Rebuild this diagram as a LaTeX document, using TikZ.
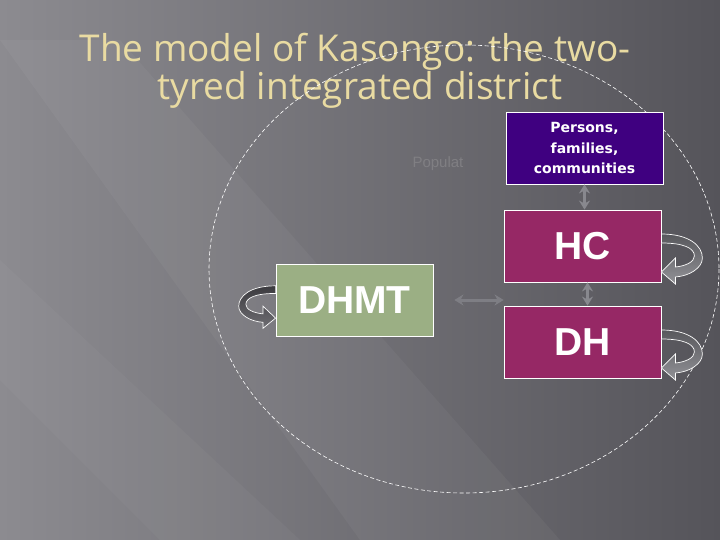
\documentclass[tikz,border=0pt]{standalone}
\usepackage{fontspec}
\setmainfont{Liberation Sans}
\newfontfamily\titlefont{Open Sans}
\newfontfamily\boxfont{DejaVu Sans}
\usetikzlibrary{arrows.meta,calc}
\definecolor{bgL}{HTML}{8C8B90}
\definecolor{bgR}{HTML}{55545A}
\definecolor{titlegold}{HTML}{E9DBA2}
\definecolor{indigo}{HTML}{3F0080}
\definecolor{plum}{HTML}{962865}
\definecolor{sage}{HTML}{9BAF84}
\definecolor{linkgray}{HTML}{88888E}
\definecolor{loopgray}{HTML}{7E7E84}
\tikzset{
  box/.style={draw=white, line width=0.8pt, minimum width=157pt, minimum height=72pt,
    inner sep=0pt, text=white, align=center},
  bigtext/.style={font=\fontsize{39}{39}\selectfont\bfseries},
  heading/.style={text=titlegold, anchor=base, font=\titlefont\fontsize{37}{38}\selectfont},
  link/.style={draw=linkgray, line width=3pt, {Stealth[length=9pt,width=11pt]}-{Stealth[length=9pt,width=11pt]}},
  loopback/.pic={
    \filldraw[draw=white, line width=0.7pt, top color=#1!70!black, bottom color=#1!85!white]
      (0,-12) .. controls (28,-12) and (41,0) .. (41,12) .. controls (41,22) and (28,30) .. (14,31)
      -- (14,38) -- (0,26) -- (14,12) -- (14,21)
      .. controls (24,20) and (33,16) .. (33,10) .. controls (33,2) and (22,-3) .. (0,-3) -- cycle;
  }
}
\begin{document}
\begin{tikzpicture}[x=1pt,y=-1pt]  % ------ Kasongo district -----------------------------
    \useasboundingbox (0,0) rectangle (720,540);
    \shade[left color=bgL, right color=bgR] (0,0) rectangle (720,540);
    \fill[white, opacity=0.04] (0,40) -- (120,40) -- (560,540) -- (360,540) -- cycle;
    \fill[white, opacity=0.03] (0,260) -- (0,380) -- (160,540) -- (300,540) -- cycle;
    \node[heading] (title1) at (355,62) {The model of Kasongo: the two-};
    \node[heading] (title2) at (360,100) {tyred integrated district};
    \draw[white, line width=0.6pt, dash pattern=on 4pt off 2.5pt] (464,269) ellipse [x radius=255, y radius=224];
    \node[text=white!25!bgR, font=\fontsize{15}{15}\selectfont, anchor=west] (pop) at (409,164) {Populat};
    \node[box, fill=indigo, font=\boxfont\fontsize{14}{20.5}\selectfont\bfseries] (persons) at (584.5,148)
      {Persons,\\families,\\communities};
    \node[box, fill=plum, bigtext] (hc) at (582.5,246) {HC};
    \node[box, fill=plum, bigtext] (dh) at (582.5,342) {DH};
    \node[box, fill=sage, bigtext] (dhmt) at (354.5,300) {DHMT};
    \draw[link] (persons.south) -- (persons.south |- hc.north);
    \draw[link] ([xshift=5pt]hc.south) -- ([xshift=5pt]dh.north);
    \draw[link, draw=linkgray!80!bgR] ([xshift=21pt]dhmt.east) -- (dhmt.east -| dh.west);
    \pic at (hc.east) {loopback=loopgray};
    \pic at (dh.east) {loopback=loopgray};
    \pic[xscale=-0.9, yscale=0.85] at ([yshift=4pt]dhmt.west) {loopback=bgR};
\end{tikzpicture}
\end{document}
